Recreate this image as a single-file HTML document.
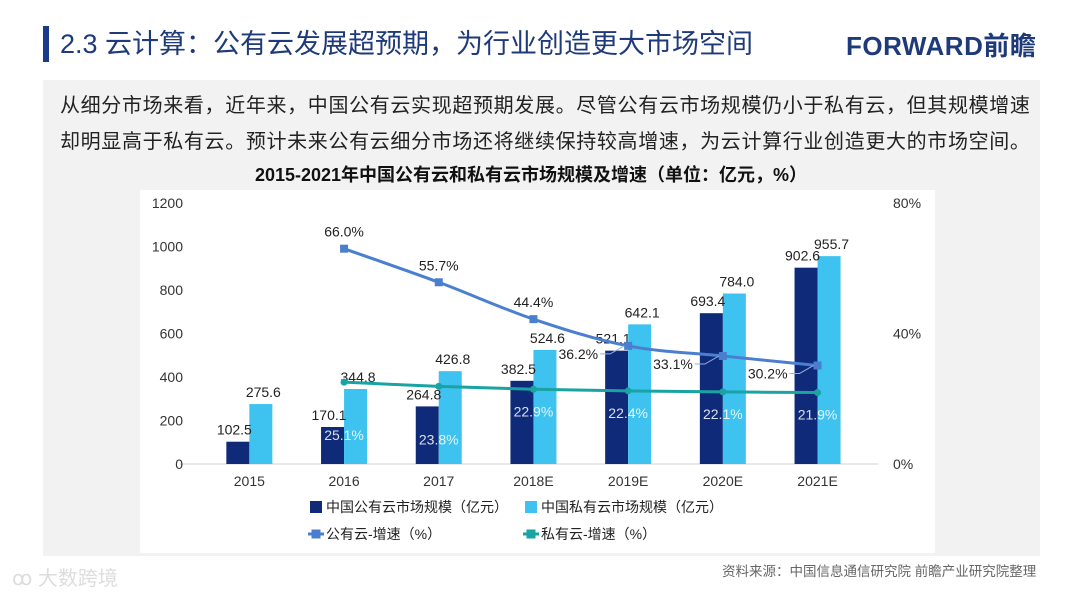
<!DOCTYPE html>
<html><head><meta charset="utf-8">
<style>
body{margin:0;width:1080px;height:595px;background:#fff;position:relative;overflow:hidden;font-family:"Liberation Sans","Noto Sans CJK SC",sans-serif;}
.abs{position:absolute;}
</style></head>
<body>
<div class="abs" style="left:43px;top:26px;width:6px;height:36px;background:#1a3a8a;"></div>
<div class="abs" style="left:60px;top:26px;font-size:27px;color:#1e3a7a;line-height:36px;">2.3 云计算：公有云发展超预期，为行业创造更大市场空间</div>
<div class="abs" style="left:846px;top:30px;font-size:26px;font-weight:bold;color:#1e3a7a;line-height:32px;letter-spacing:0.5px;">FORWARD前瞻</div>
<div class="abs" style="left:43px;top:80px;width:997px;height:476px;background:#f2f2f2;"></div>
<div class="abs" style="left:60px;top:88px;width:990px;font-size:20px;letter-spacing:0.65px;line-height:36px;color:#222;white-space:nowrap;">从细分市场来看，近年来，中国公有云实现超预期发展。尽管公有云市场规模仍小于私有云，但其规模增速<br>却明显高于私有云。预计未来公有云细分市场还将继续保持较高增速，为云计算行业创造更大的市场空间。</div>
<div class="abs" style="left:0;width:1062px;top:161px;text-align:center;font-size:18px;font-weight:bold;color:#111;">2015-2021年中国公有云和私有云市场规模及增速（单位：亿元，%）</div>
<div class="abs" style="left:140px;top:190px;width:795px;height:363px;background:#fff;"></div>
<svg class="abs" style="left:0;top:0" width="1080" height="595" id="chart"></svg>
<div class="abs" style="left:722px;top:560px;font-size:13.5px;color:#666;">资料来源：中国信息通信研究院 前瞻产业研究院整理</div>
<div class="abs" style="left:12px;top:562px;font-size:20px;color:#ddd;">ꝏ 大数跨境</div>
<script>
const categories=["2015","2016","2017","2018E","2019E","2020E","2021E"];
const publicSize=[102.5,170.1,264.8,382.5,521.1,693.4,902.6];
const privateSize=[275.6,344.8,426.8,524.6,642.1,784.0,955.7];
const publicGrowth=[null,66.0,55.7,44.4,36.2,33.1,30.2];
const privateGrowth=[null,25.1,23.8,22.9,22.4,22.1,21.9];
const leftTicks=[0,200,400,600,800,1000,1200];
const rightTicks=[0,40,80];
const NS="http://www.w3.org/2000/svg";
const svg=document.getElementById('chart');
const y0=464,yTop=203;
const yL=v=>y0-v/1200*(y0-yTop);
const yR=v=>y0-v/80*(y0-yTop);
const x0=202,step=94.7;
const xC=i=>x0+step*(i+0.5);
function mk(t,a,txt){const e=document.createElementNS(NS,t);for(const k in a)e.setAttribute(k,a[k]);if(txt!=null)e.textContent=txt;svg.appendChild(e);return e;}
let e;
e=mk('line',{x1:180,x2:878,y1:y0,y2:y0,stroke:'#d0d0d0','stroke-width':1});


leftTicks.forEach(v=>{e=mk('text',{x:183,y:yL(v)+5,'text-anchor':'end','font-size':14,fill:'#333'},String(v));

});
rightTicks.forEach(v=>{e=mk('text',{x:893,y:yR(v)+5,'font-size':14,fill:'#333'},v+'%');

});
categories.forEach((c,i)=>{
 e=mk('text',{x:xC(i),y:y0+22,'text-anchor':'middle','font-size':14,fill:'#333'},c);
 
 
 e=mk('rect',{x:xC(i)-23,y:yL(publicSize[i]),width:23,height:y0-yL(publicSize[i]),fill:'#0f2a78'});
 
 
 e=mk('rect',{x:xC(i),y:yL(privateSize[i]),width:23,height:y0-yL(privateSize[i]),fill:'#3ec3f0'});
 
 
 e=mk('text',{x:xC(i)-15,y:yL(publicSize[i])-7,'text-anchor':'middle','font-size':14,fill:'#222'},publicSize[i].toFixed(1));
 
 
 e=mk('text',{x:xC(i)+14,y:yL(privateSize[i])-7,'text-anchor':'middle','font-size':14,fill:'#222'},privateSize[i].toFixed(1));
 
 
});
function pts(arr,f){const p=[];arr.forEach((v,i)=>{if(v!=null)p.push([xC(i),f(v)]);});return p;}
function smooth(p){let d='M'+p[0][0]+','+p[0][1];for(let i=0;i<p.length-1;i++){const p0=p[i-1]||p[i],p1=p[i],p2=p[i+1],p3=p[i+2]||p2;const c1=[p1[0]+(p2[0]-p0[0])/6,p1[1]+(p2[1]-p0[1])/6],c2=[p2[0]-(p3[0]-p1[0])/6,p2[1]-(p3[1]-p1[1])/6];d+=' C'+c1+' '+c2+' '+p2;}return d;}
const pp=pts(publicGrowth,yR),qp=pts(privateGrowth,yR);
e=mk('path',{d:smooth(pp),fill:'none',stroke:'#4a7fd0','stroke-width':3});


e=mk('path',{d:smooth(qp),fill:'none',stroke:'#1aa3a3','stroke-width':3});


pp.forEach(p=>{e=mk('rect',{x:p[0]-4,y:p[1]-4,width:8,height:8,fill:'#4a7fd0'});

});
qp.forEach(p=>{e=mk('circle',{cx:p[0],cy:p[1],r:3.5,fill:'#1aa3a3'});

});
publicGrowth.forEach((v,i)=>{if(v==null)return;const x=xC(i),y=yR(v);
 const side=i>=4;
 e=mk('text',{x:side?x-30:x,y:side?y+13:y-12,'text-anchor':side?'end':'middle','font-size':14,fill:'#222'},v.toFixed(1)+'%');
 
 
 if(side){e=mk('path',{d:`M${x-28},${y+8} L${x-18},${y+8} L${x-4},${y}`,fill:'none',stroke:'#8fb0e0','stroke-width':1});
 
 }
});
privateGrowth.forEach((v,i)=>{if(v==null)return;
 const off=i<=2?58:27;
 e=mk('text',{x:xC(i),y:yR(v)+off,'text-anchor':'middle','font-size':14,fill:'#fff','fill-opacity':0.85},v.toFixed(1)+'%');
 
 });
const leg=[[310,507,'rect','#0f2a78','中国公有云市场规模（亿元）'],[525,507,'rect','#3ec3f0','中国私有云市场规模（亿元）'],[310,534,'line','#4a7fd0','公有云-增速（%）'],[525,534,'line','#1aa3a3','私有云-增速（%）']];
leg.forEach(l=>{
 if(l[2]=='rect'){e=mk('rect',{x:l[0],y:l[1]-6,width:12,height:12,fill:l[3]});}
 else{e=mk('path',{d:`M${l[0]-2},${l[1]} h16 M${l[0]+3},${l[1]-3} h6 v6 h-6z`,stroke:l[3],'stroke-width':3,fill:l[3]});}
 
 
 e=mk('text',{x:l[0]+16,y:l[1]+5,'font-size':14,fill:'#222'},l[4]);
 
 
});
</script>
</body></html>
